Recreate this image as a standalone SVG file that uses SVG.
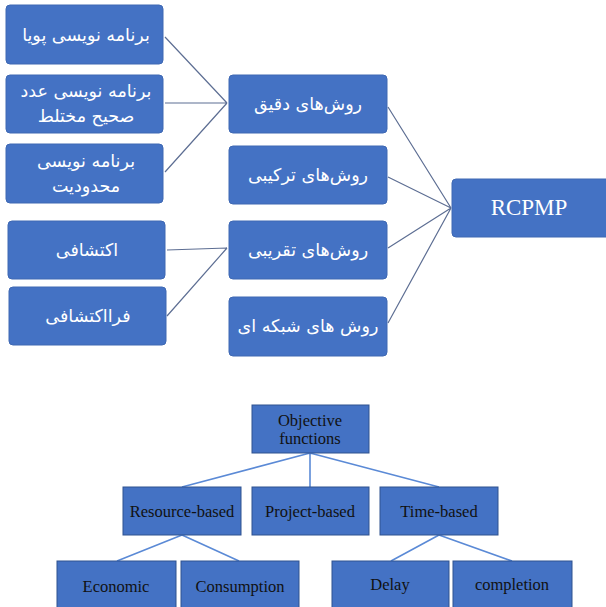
<svg xmlns="http://www.w3.org/2000/svg" width="606" height="607" viewBox="0 0 606 607">
<style>
.tb{fill:#4472C4;stroke:#3E68B3;stroke-width:1}
.fa{font-family:"DejaVu Sans","Noto Sans",sans-serif;font-size:17.5px;fill:#FFFFFF;text-anchor:middle;direction:rtl}
.bb{fill:#4472C4;stroke:#2F528F;stroke-width:1}
.en{font-family:"Liberation Serif","Times New Roman",serif;font-size:16.5px;fill:#111111;text-anchor:middle}
.c1{stroke:#5D6E93;stroke-width:1.2;fill:none}
.c2{stroke:#5B8AD6;stroke-width:1.6;fill:none}
</style>
<rect width="606" height="607" fill="#FFFFFF"/>
<g id="connectors">
<path class="c1" d="M165,37 L227,103 M165,103 L227,103 M165,172 L227,103"/>
<path class="c1" d="M167,250 L227,248 M167,316 L227,248"/>
<path class="c1" d="M388,107 L451,208 M388,177 L451,208 M388,248 L451,208 M388,323 L451,208"/>
<path class="c2" d="M310,453 L182,487 M310,453 L310,487 M310,453 L439,487"/>
<path class="c2" d="M182,535 L117,561 M182,535 L239,561"/>
<path class="c2" d="M439,535 L391,561 M439,535 L512,561"/>
</g>
<g id="n-dp"><rect class="tb" x="6" y="5" width="157" height="59" rx="4"/><text class="fa" x="86" y="41">برنامه نویسی پویا</text></g>
<g id="n-mip"><rect class="tb" x="6" y="75" width="157" height="58" rx="4"/><text class="fa" x="86" y="97">برنامه نویسی عدد</text><text class="fa" x="86" y="122">صحیح مختلط</text></g>
<g id="n-cp"><rect class="tb" x="6" y="144" width="157" height="59" rx="4"/><text class="fa" x="86" y="167">برنامه نویسی</text><text class="fa" x="86" y="192">محدودیت</text></g>
<g id="n-heur"><rect class="tb" x="8" y="221" width="157" height="58" rx="4"/><text class="fa" x="87" y="256">اکتشافی</text></g>
<g id="n-meta"><rect class="tb" x="9" y="287" width="157" height="58" rx="4"/><text class="fa" x="88" y="322">فرااکتشافی</text></g>
<g id="n-exact"><rect class="tb" x="229" y="75" width="158" height="58" rx="4"/><text class="fa" x="308" y="110">روش‌های دقیق</text></g>
<g id="n-hybrid"><rect class="tb" x="229" y="146" width="158" height="58" rx="4"/><text class="fa" x="308" y="181">روش‌های ترکیبی</text></g>
<g id="n-approx"><rect class="tb" x="229" y="221" width="158" height="58" rx="4"/><text class="fa" x="308" y="256">روش‌های تقریبی</text></g>
<g id="n-network"><rect class="tb" x="229" y="297" width="158" height="59" rx="4"/><text class="fa" x="308" y="332">روش های شبکه ای</text></g>
<g id="n-rcpmp"><rect class="tb" x="452" y="179" width="160" height="58" rx="4"/><text x="529" y="215" font-family="Liberation Serif, serif" font-size="23" fill="#FFFFFF" text-anchor="middle">RCPMP</text></g>
<g id="n-obj"><rect class="bb" x="252" y="405" width="117" height="48"/><text class="en" x="310" y="426">Objective</text><text class="en" x="310" y="444">functions</text></g>
<g id="n-res"><rect class="bb" x="123" y="487" width="118" height="48"/><text class="en" x="182" y="517">Resource-based</text></g>
<g id="n-proj"><rect class="bb" x="252" y="487" width="117" height="48"/><text class="en" x="310" y="517">Project-based</text></g>
<g id="n-time"><rect class="bb" x="380" y="487" width="118" height="48"/><text class="en" x="439" y="517">Time-based</text></g>
<g id="n-eco"><rect class="bb" x="57" y="561" width="119" height="50"/><text class="en" x="116" y="592">Economic</text></g>
<g id="n-cons"><rect class="bb" x="181" y="561" width="118" height="50"/><text class="en" x="240" y="592">Consumption</text></g>
<g id="n-delay"><rect class="bb" x="332" y="561" width="117" height="50"/><text class="en" x="390" y="590">Delay</text></g>
<g id="n-comp"><rect class="bb" x="453" y="561" width="119" height="50"/><text class="en" x="512" y="590">completion</text></g>
</svg>
